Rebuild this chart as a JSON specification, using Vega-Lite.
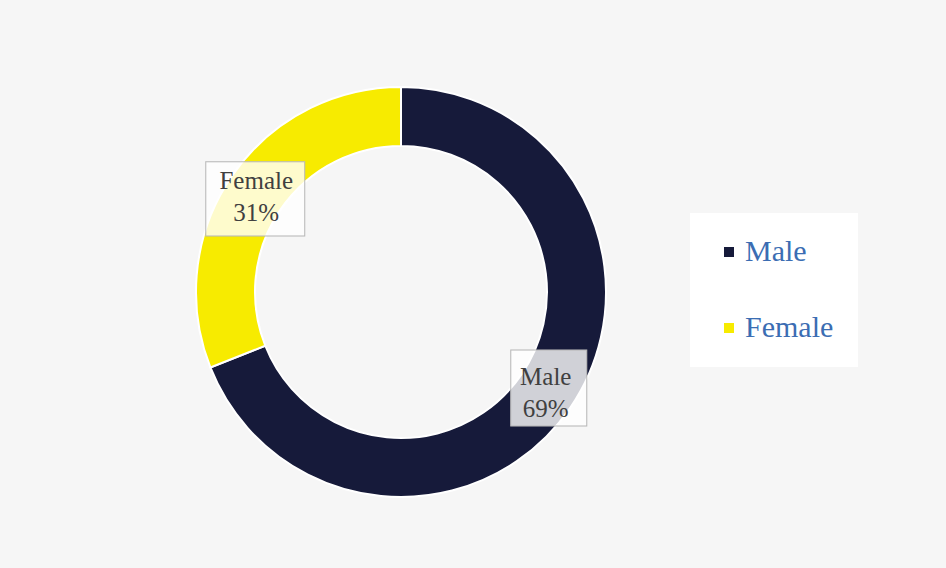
{
  "$schema": "https://vega.github.io/schema/vega-lite/v6.json",
  "width": 802,
  "height": 552,
  "autosize": {"type": "none"},
  "padding": {"left": 0, "top": 16, "right": 144, "bottom": 0},
  "background": "#f6f6f6",
  "view": {"stroke": null},
  "data": {"values": [
    {"category": "Male", "share": 0.69},
    {"category": "Female", "share": 0.31}
  ]},
  "encoding": {
    "theta": {"field": "share", "type": "quantitative", "stack": true},
    "order": {"field": "category", "sort": "descending"}
  },
  "layer": [
    {
      "mark": {"type": "arc", "innerRadius": 146, "outerRadius": 205, "stroke": "white", "strokeWidth": 2},
      "encoding": {
        "color": {
          "field": "category", "type": "nominal",
          "scale": {"domain": ["Male", "Female"], "range": ["#161a3a", "#f7eb00"]},
          "legend": {
            "orient": "none", "legendX": 690, "legendY": 197, "title": null,
            "fillColor": "white", "padding": 24,
            "symbolType": "square", "symbolSize": 100, "symbolStrokeWidth": 0,
            "labelFont": "Liberation Serif", "labelFontSize": 30, "labelColor": "#3b6db3",
            "rowPadding": 46, "labelOffset": 1
          }
        }
      }
    },
    {
      "mark": {"type": "text", "radius": 175, "font": "Noto Sans CJK SC", "fill": "white", "fillOpacity": 0.8, "stroke": "#b8b8b8", "strokeWidth": 1, "align": "center", "baseline": "middle", "fontSize": 99, "dx": -1, "dy": 0},
      "encoding": {
        "text": {"condition": {"test": "datum.category == 'Female'", "value": "▆"}, "value": ""}
      }
    },
    {
      "mark": {"type": "text", "radius": 175, "font": "Noto Sans CJK SC", "fill": "white", "fillOpacity": 0.8, "stroke": "#b8b8b8", "strokeWidth": 1, "align": "center", "baseline": "middle", "fontSize": 76, "dx": 3, "dy": 4},
      "encoding": {
        "text": {"condition": {"test": "datum.category == 'Male'", "value": "█"}, "value": ""}
      }
    },
    {
      "mark": {"type": "text", "radius": 175, "font": "Liberation Serif", "fontSize": 25, "fill": "#404040", "dy": -5, "align": "center", "baseline": "alphabetic"},
      "encoding": {"text": {"field": "category"}}
    },
    {
      "mark": {"type": "text", "radius": 175, "font": "Liberation Serif", "fontSize": 25, "fill": "#404040", "dy": 27, "align": "center", "baseline": "alphabetic"},
      "encoding": {"text": {"field": "share", "format": ".0%"}}
    }
  ]
}
